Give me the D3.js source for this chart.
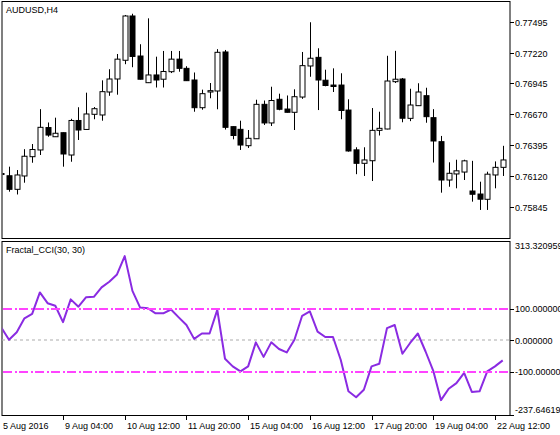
<!DOCTYPE html>
<html>
<head>
<meta charset="utf-8">
<script src="https://cdn.jsdelivr.net/npm/d3@7/dist/d3.min.js"></script>
<style>
html,body{margin:0;padding:0;background:#fff;}
svg{display:block;}
text{font-family:"Liberation Sans",Arial,sans-serif;font-size:9px;fill:#000;}
</style>
</head>
<body>
<svg id="c" width="560" height="435"></svg>
<script>
// ---- data (AUDUSD H4) ----
const symbolTitle = "AUDUSD,H4";
const indicatorTitle = "Fractal_CCI(30, 30)";
const opens  = [0.76132,0.76121,0.76000,0.76119,0.76291,0.76351,0.76551,0.76469,0.76505,0.76306,0.76614,0.76534,0.76669,0.76663,0.76868,0.76984,0.77151,0.77546,0.77189,0.76951,0.77020,0.76982,0.77049,0.77161,0.77079,0.76975,0.76728,0.76868,0.76877,0.77225,0.76559,0.76535,0.76389,0.76451,0.76758,0.76592,0.76803,0.76716,0.76687,0.76823,0.77100,0.77177,0.76973,0.76930,0.76930,0.76707,0.76352,0.76232,0.76255,0.76526,0.76538,0.76960,0.76984,0.76633,0.76746,0.76835,0.76639,0.76425,0.76083,0.76137,0.76154,0.75985,0.75958,0.75911,0.76128,0.76196];
const highs  = [0.76150,0.76202,0.76172,0.76358,0.76404,0.76715,0.76596,0.76639,0.76507,0.76629,0.76732,0.76862,0.76734,0.76972,0.77071,0.77207,0.77555,0.77566,0.77294,0.77525,0.77183,0.77234,0.77234,0.77234,0.77098,0.77042,0.76889,0.76948,0.77250,0.77243,0.76561,0.76612,0.76529,0.76799,0.76792,0.76915,0.76853,0.76837,0.76892,0.77225,0.77490,0.77258,0.77067,0.77079,0.77035,0.76803,0.76375,0.76375,0.76725,0.76692,0.77191,0.77235,0.76993,0.76897,0.76946,0.76906,0.76715,0.76476,0.76241,0.76264,0.76264,0.76254,0.76068,0.76157,0.76249,0.76388];
const lows   = [0.76123,0.75979,0.75954,0.76059,0.76237,0.76306,0.76469,0.76467,0.76202,0.76246,0.76440,0.76529,0.76625,0.76612,0.76834,0.76844,0.77116,0.77089,0.76979,0.76948,0.76908,0.76908,0.77037,0.77049,0.76966,0.76692,0.76710,0.76812,0.76714,0.76533,0.76446,0.76351,0.76369,0.76449,0.76574,0.76565,0.76705,0.76685,0.76529,0.76807,0.77004,0.76707,0.76919,0.76868,0.76625,0.76336,0.76135,0.76119,0.76074,0.76480,0.76535,0.76948,0.76598,0.76608,0.76744,0.76594,0.76239,0.75970,0.76023,0.76009,0.76083,0.75890,0.75816,0.75816,0.76009,0.76119];
const closes = [0.76141,0.76000,0.76128,0.76295,0.76355,0.76553,0.76484,0.76500,0.76315,0.76614,0.76529,0.76672,0.76719,0.76871,0.76984,0.77161,0.77546,0.77185,0.76982,0.77020,0.76975,0.77051,0.77161,0.77079,0.76969,0.76728,0.76853,0.76880,0.77222,0.76553,0.76480,0.76395,0.76455,0.76758,0.76592,0.76792,0.76714,0.76687,0.76826,0.77103,0.77169,0.76975,0.76926,0.76917,0.76703,0.76342,0.76232,0.76262,0.76526,0.76544,0.76966,0.76982,0.76634,0.76752,0.76868,0.76648,0.76431,0.76083,0.76143,0.76165,0.76254,0.75956,0.75912,0.76135,0.76196,0.76262];
const cciValues = [41,2,26,70,84,152,118,110,58,130,107,137,138,168,186,209,267,157,104,102,86,86,98,73,49,5,22,22,97,-58,-82,-98,-82,-6,-52,-6,-27,-38,2,78,92,28,11,11,-61,-161,-180,-156,-82,-74,39,49,-42,-8,22,-35,-96,-189,-153,-135,-103,-163,-161,-98,-82,-63];
const priceTicks = [0.77495,0.77220,0.76945,0.76670,0.76395,0.76120,0.75845];
const cciMax = 313.320959, cciMin = -237.64619;
const cciLevels = [100,-100];
const cciTickLabels = ["313.320959","100.000000","0.000000","-100.000000","-237.64619"];
const cciTickValues = [313.320959,100,0,-100,-237.64619];
const timeTickIndex = [0,8,16,24,32,40,48,56,64];
const timeTickLabels = ["5 Aug 2016","9 Aug 04:00","10 Aug 12:00","11 Aug 20:00","15 Aug 04:00","16 Aug 12:00","17 Aug 20:00","19 Aug 04:00","22 Aug 12:00"];

// ---- layout ----
const L = 2, R = 510;
const mainTop = 1.5, mainBot = 238.5;
const subTop = 241.5, subBot = 415.5;
const svg = d3.select("#c");

const bars = opens.map((o,i)=>({i,o,h:highs[i],l:lows[i],c:closes[i],cci:cciValues[i]}));
const x = d3.scaleLinear().domain([0,65]).range([1.3,502.7]);
const y = d3.scaleLinear().domain([0.75845,0.77495]).range([206.7,21.7]);
const yc = d3.scaleLinear().domain([cciMin,cciMax]).range([subBot,subTop]);

const defs = svg.append("defs");
defs.append("clipPath").attr("id","cm").append("rect").attr("x",L+0.5).attr("y",mainTop).attr("width",R-L-1).attr("height",mainBot-mainTop);
defs.append("clipPath").attr("id","cs").append("rect").attr("x",L+0.5).attr("y",subTop).attr("width",R-L-1).attr("height",subBot-subTop);

// frames
svg.append("rect").attr("x",L).attr("y",mainTop).attr("width",R-L).attr("height",mainBot-mainTop).attr("fill","#fff").attr("stroke","#000").attr("stroke-width",1);
svg.append("rect").attr("x",L).attr("y",subTop).attr("width",R-L).attr("height",subBot-subTop).attr("fill","#fff").attr("stroke","#000").attr("stroke-width",1);

// candles
const gc = svg.append("g").attr("clip-path","url(#cm)");
const sx = v => Math.round(v)+0.5;
gc.selectAll("line.w").data(bars).join("line").attr("class","w")
  .attr("x1",d=>sx(x(d.i))).attr("x2",d=>sx(x(d.i)))
  .attr("y1",d=>y(d.h)).attr("y2",d=>y(d.l))
  .attr("stroke","#000").attr("stroke-width",1);
gc.selectAll("rect.b").data(bars).join("rect").attr("class","b")
  .attr("x",d=>sx(x(d.i))-2.5).attr("width",5)
  .attr("y",d=>y(Math.max(d.o,d.c)))
  .attr("height",d=>Math.max(1,Math.abs(y(d.o)-y(d.c))))
  .attr("fill",d=>d.c>=d.o?"#fff":"#000")
  .attr("stroke","#000").attr("stroke-width",1);

// price axis
const pa = svg.append("g");
priceTicks.forEach(p=>{
  const yy = Math.round(y(p))+0.5;
  pa.append("line").attr("x1",R).attr("x2",R+4).attr("y1",yy).attr("y2",yy).attr("stroke","#000");
  pa.append("text").attr("x",R+5).attr("y",yy+3.3).text(p.toFixed(5));
});

// titles
svg.append("text").attr("x",6).attr("y",13).text(symbolTitle);
svg.append("text").attr("x",6).attr("y",253).text(indicatorTitle);

// CCI sub-window
const gs = svg.append("g").attr("clip-path","url(#cs)");
gs.append("line").attr("x1",L).attr("x2",R).attr("y1",Math.round(yc(0))).attr("y2",Math.round(yc(0)))
  .attr("stroke","#c8c8c8").attr("stroke-width",1.5).attr("stroke-dasharray","3,3");
gs.append("path").datum(bars)
  .attr("d",d3.line().x(d=>x(d.i)).y(d=>yc(d.cci)))
  .attr("fill","none").attr("stroke","#8a2be2").attr("stroke-width",2).attr("stroke-linejoin","round");
cciLevels.forEach(v=>{
  const yy = Math.round(yc(v)) - 1;
  for (let xx = L+1; xx < R; xx += 16) {
    gs.append("rect").attr("x",xx).attr("y",yy).attr("width",Math.min(9,R-xx)).attr("height",2).attr("fill","#ff44ff");
    if (xx+12 < R) gs.append("rect").attr("x",xx+12).attr("y",yy).attr("width",2).attr("height",2).attr("fill","#ff44ff");
  }
});

// CCI axis labels
cciTickValues.forEach((v,k)=>{
  let yy = yc(v);
  if (k>0 && k<cciTickValues.length-1) {
    pa.append("line").attr("x1",R).attr("x2",R+4).attr("y1",Math.round(yy)+0.5).attr("y2",Math.round(yy)+0.5).attr("stroke","#000");
  }
  let ty = yy+3.3;
  if (k===0) ty = subTop+7.5;
  if (k===cciTickValues.length-1) { ty = subBot-2.5; pa.append("line").attr("x1",R).attr("x2",R+4).attr("y1",subBot).attr("y2",subBot).attr("stroke","#000"); }
  pa.append("text").attr("x",R+5).attr("y",ty).text(cciTickLabels[k]);
});

// time axis
const ta = svg.append("g");
timeTickIndex.forEach((idx,k)=>{
  const xx = Math.round(x(idx))+0.5;
  if (k>0) ta.append("line").attr("x1",xx).attr("x2",xx).attr("y1",subBot).attr("y2",subBot+4.5).attr("stroke","#000");
  ta.append("text").attr("x",k===0?3:xx+1.5).attr("y",429).text(timeTickLabels[k]);
});
</script>
</body>
</html>
